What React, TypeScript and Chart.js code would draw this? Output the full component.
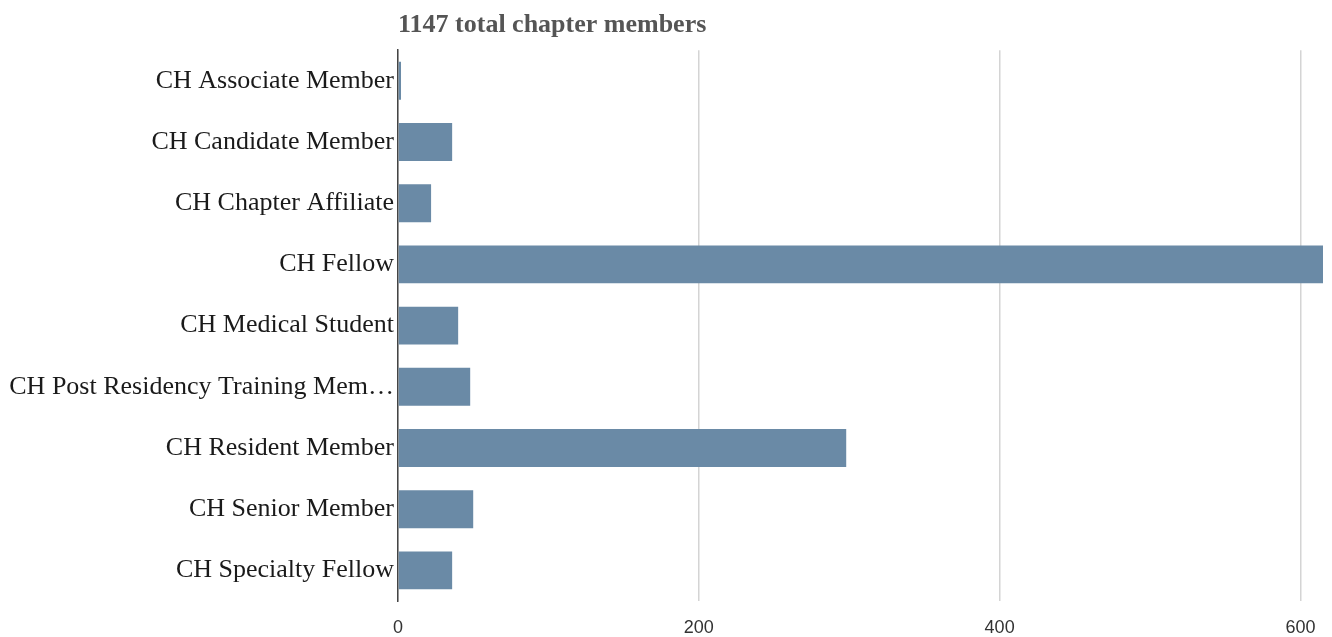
import React, { useEffect, useRef } from "react";
import { Chart, registerables } from "chart.js";

Chart.register(...registerables);

const categories = [
  "CH Associate Member",
  "CH Candidate Member",
  "CH Chapter Affiliate",
  "CH Fellow",
  "CH Medical Student",
  "CH Post Residency Training Member",
  "CH Resident Member",
  "CH Senior Member",
  "CH Specialty Fellow",
];
const memberCounts = [2, 36, 22, 615, 40, 48, 298, 50, 36];
const tickValues = [0, 200, 400, 600];
const titleText = "1147 total chapter members";

export default function App() {
  const ref = useRef<HTMLCanvasElement | null>(null);

  useEffect(() => {
    if (!ref.current) return;
    const chart = new Chart(ref.current, {
      type: "bar",
      data: {
        labels: categories,
        datasets: [
          {
            data: memberCounts,
            backgroundColor: "#6a8aa6",
            borderWidth: 0,
            categoryPercentage: 1,
            barPercentage: 0.62,
          },
        ],
      },
      options: {
        indexAxis: "y",
        animation: false,
        responsive: false,
        maintainAspectRatio: false,
        layout: { padding: { left: 0, right: 9, top: 0, bottom: 0 } },
        plugins: {
          legend: { display: false },
          tooltip: { enabled: false },
          title: {
            display: true,
            text: titleText,
            align: "start",
            fullSize: false,
            color: "#555",
            font: { family: "'Liberation Serif', serif", size: 26, weight: "bold" },
            padding: { top: 10, bottom: 9 },
          },
        },
        scales: {
          x: {
            min: 0,
            max: Math.max(...memberCounts),
            grid: { color: "#d4d4d4", lineWidth: 1.5, drawTicks: false },
            border: { display: false },
            afterBuildTicks: (scale: any) => {
              scale.ticks = tickValues.map((v) => ({ value: v }));
            },
            afterFit: (scale: any) => {
              scale.height = 36;
              scale.paddingLeft = 0;
              scale.paddingRight = 0;
            },
            ticks: {
              padding: 16,
              color: "#333",
              font: { family: "'Liberation Sans', sans-serif", size: 18 },
            },
          },
          y: {
            grid: { display: false, drawTicks: false },
            border: { display: true, color: "#444", width: 1.5 },
            afterFit: (scale: any) => {
              scale.width = 398;
              scale.paddingTop = 0;
              scale.paddingBottom = 0;
            },
            ticks: {
              padding: 4,
              color: "#1a1a1a",
              font: { family: "'Liberation Serif', serif", size: 26 },
              callback: function (this: any, value: any) {
                const s = String(this.getLabelForValue(value));
                return s.length > 30 ? s.slice(0, 30) + "…" : s;
              },
            },
          },
        },
      },
    });
    return () => chart.destroy();
  }, []);

  return (
    <div style={{ position: "absolute", left: 0, top: 0, width: 1332, height: 637 }}>
      <canvas ref={ref} width={1332} height={637} style={{ width: 1332, height: 637 }} />
    </div>
  );
}
